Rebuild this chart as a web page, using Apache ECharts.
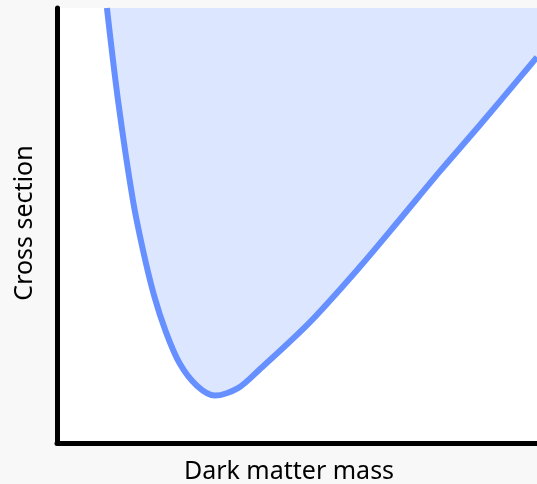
<!DOCTYPE html>
<html><head><meta charset="utf-8">
<script src="https://cdn.jsdelivr.net/npm/echarts@6/dist/echarts.min.js"></script>
<style>html,body{margin:0;padding:0;background:#f8f8f8}#c{width:537px;height:484px}</style>
</head><body><div id="c"></div>
<script>
const xLabel = "Dark matter mass";
const yLabel = "Cross section";
const massValues = [10.4, 12.7, 15.8, 17.9, 20.2, 22.7, 25.6, 29.2, 32.9, 37.7, 42.3, 52.7, 63.1, 71.5, 79.8, 88.1, 96.5, 100];
const crossValues = [100, 78.9, 55.9, 44.4, 34.0, 25.5, 18.2, 13.1, 10.9, 12.6, 17.0, 27.8, 40.5, 51.5, 62.5, 73.1, 84.1, 88.7];
const font = 'Noto Sans';
const chart = echarts.init(document.getElementById('c'));
chart.setOption({
  backgroundColor: '#f8f8f8',
  animation: false,
  grid: {left: 57, right: 0, top: 8, bottom: 41, containLabel: false, outerBoundsMode: 'none',
    show: true, backgroundColor: '#ffffff', borderWidth: 0},
  xAxis: {type: 'value', min: 0, max: 100, name: xLabel, nameLocation: 'middle', nameGap: 16,
    nameTextStyle: {fontFamily: font, fontSize: 25, color: '#000', verticalAlign: 'top', padding: [0, 16, 0, 0]},
    axisLine: {lineStyle: {color: '#000', width: 5}}, axisTick: {show: false}, axisLabel: {show: false}, splitLine: {show: false}},
  yAxis: {type: 'value', min: 0, max: 100, name: yLabel, nameLocation: 'middle', nameGap: 20,
    nameTextStyle: {fontFamily: font, fontSize: 25, color: '#000', padding: [0, 0, 0, 5]},
    axisLine: {show: true, lineStyle: {color: '#000', width: 5}}, axisTick: {show: false}, axisLabel: {show: false}, splitLine: {show: false}},
  series: [{type: 'line', data: massValues.map((m, i) => [m, crossValues[i]]), smooth: 0.3, symbol: 'none',
    lineStyle: {color: '#6690ff', width: 6}, areaStyle: {color: '#dde6ff', opacity: 1, origin: 'end'}}]
});
</script></body></html>
